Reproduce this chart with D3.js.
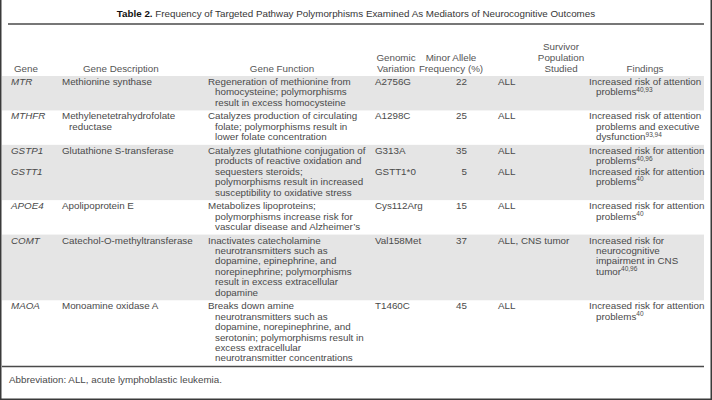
<!DOCTYPE html>
<html>
<head>
<meta charset="utf-8">
<script src="https://cdn.jsdelivr.net/npm/d3@7"></script>
<style>
  html, body { margin: 0; padding: 0; background: #fff; }
  svg { display: block; }
  text { font-family: "Liberation Sans", Arial, sans-serif; }
</style>
</head>
<body>
<svg id="chart" width="712" height="400"></svg>
<script>
// ---------- data ----------
const titleBold = "Table 2.";
const titleText = "Frequency of Targeted Pathway Polymorphisms Examined As Mediators of Neurocognitive Outcomes";
const headers = [
  ["Gene"],
  ["Gene Description"],
  ["Gene Function"],
  ["Genomic", "Variation"],
  ["Minor Allele", "Frequency (%)"],
  ["Survivor", "Population", "Studied"],
  ["Findings"]
];
const genes = ["MTR", "MTHFR", "GSTP1", "GSTT1", "APOE4", "COMT", "MAOA"];
const descriptions = [
  ["Methionine synthase"],
  ["Methylenetetrahydrofolate", "reductase"],
  ["Glutathione S-transferase"],
  [],
  ["Apolipoprotein E"],
  ["Catechol-O-methyltransferase"],
  ["Monoamine oxidase A"]
];
const functions = [
  ["Regeneration of methionine from", "homocysteine; polymorphisms", "result in excess homocysteine"],
  ["Catalyzes production of circulating", "folate; polymorphisms result in", "lower folate concentration"],
  ["Catalyzes glutathione conjugation of", "products of reactive oxidation and", "sequesters steroids;", "polymorphisms result in increased", "susceptibility to oxidative stress"],
  [],
  ["Metabolizes lipoproteins;", "polymorphisms increase risk for", "vascular disease and Alzheimer\u2019s"],
  ["Inactivates catecholamine", "neurotransmitters such as", "dopamine, epinephrine, and", "norepinephrine; polymorphisms", "result in excess extracellular", "dopamine"],
  ["Breaks down amine", "neurotransmitters such as", "dopamine, norepinephrine, and", "serotonin; polymorphisms result in", "excess extracellular", "neurotransmitter concentrations"]
];
const variations = ["A2756G", "A1298C", "G313A", "GSTT1*0", "Cys112Arg", "Val158Met", "T1460C"];
const frequencies = [22, 25, 35, 5, 15, 37, 45];
const populations = ["ALL", "ALL", "ALL", "ALL", "ALL", "ALL, CNS tumor", "ALL"];
const findings = [
  ["Increased risk of attention", "problems"],
  ["Increased risk of attention", "problems and executive", "dysfunction"],
  ["Increased risk for attention", "problems"],
  ["Increased risk for attention", "problems"],
  ["Increased risk for attention", "problems"],
  ["Increased risk for", "neurocognitive", "impairment in CNS", "tumor"],
  ["Increased risk for attention", "problems"]
];
const references = ["40,93", "93,94", "40,96", "40", "40", "40,96", "40"];
// GSTP1 and GSTT1 share one shaded row; GSTT1 starts on that row's 3rd line
const rowGroup = [0, 1, 2, 2, 3, 4, 5];
const lineStart = [0, 0, 0, 2, 0, 0, 0];
const footnote = "Abbreviation: ALL, acute lymphoblastic leukemia.";

// ---------- layout ----------
const W = 712, H = 400;
const svg = d3.select("#chart");
const textColor = "#4a4a4a";
const fs = 9.8;

// group line counts
const groupLines = d3.range(6).map(g =>
  d3.max(genes.map((_, i) => i), i => rowGroup[i] === g
    ? lineStart[i] + Math.max(descriptions[i].length, functions[i].length, findings[i].length, 1) : 0));
const padUnits = 0.3;
const groupUnits = groupLines.map(n => n + padUnits);
const groupStart = [0];
groupUnits.forEach((u, i) => groupStart.push(groupStart[i] + u));
const totalUnits = groupStart[groupStart.length - 1];

const bodyTop = 76, bodyBottom = 366;
const y = d3.scaleLinear().domain([0, totalUnits]).range([bodyTop, bodyBottom]);
const unit = y(1) - y(0);
const baseline = (g, line) => y(groupStart[g] + line) + unit * 0.82 + 0.5;

const colX = d3.scaleOrdinal()
  .domain(["gene", "desc", "func", "var", "freq", "pop", "find"])
  .range([11, 62, 208, 375, 467, 498, 589]);
const headX = d3.scaleOrdinal()
  .domain(d3.range(7))
  .range([14, 83, 282, 396, 451, 561, 645]);
const headAnchor = ["start", "start", "middle", "middle", "middle", "middle", "middle"];
const indent = 7;

// frame
svg.append("rect").attr("x", 0).attr("y", 0).attr("width", W).attr("height", H).attr("fill", "#fff");
svg.append("path")
  .attr("d", `M0.75,0 V${H - 0.75} H${W - 0.75} V0`)
  .attr("fill", "none").attr("stroke", "#3a3a3a").attr("stroke-width", 1.5);

// title
const title = svg.append("text").attr("x", 356).attr("y", 17)
  .attr("text-anchor", "middle").attr("font-size", 9.8).attr("fill", "#363636");
title.append("tspan").attr("font-weight", "bold").attr("fill", "#111").text(titleBold);
title.append("tspan").text(" " + titleText);
svg.append("line").attr("x1", 8).attr("x2", 704).attr("y1", 24).attr("y2", 24)
  .attr("stroke", "#4a4a4a").attr("stroke-width", 1.3);

// header
const hdr = svg.append("g").attr("font-size", fs).attr("fill", "#555");
headers.forEach((lines, c) => {
  const n = lines.length;
  lines.forEach((t, k) => {
    hdr.append("text")
      .attr("x", headX(c))
      .attr("y", 71.5 - (n - 1 - k) * 11)
      .attr("text-anchor", headAnchor[c])
      .text(t);
  });
});

// shaded row bands
svg.append("g").selectAll("rect")
  .data(d3.range(6).filter(g => g % 2 === 0))
  .join("rect")
  .attr("x", 2).attr("width", 702)
  .attr("y", g => y(groupStart[g]))
  .attr("height", g => y(groupStart[g + 1]) - y(groupStart[g]))
  .attr("fill", "#e5e5e5");

// body
const body = svg.append("g").attr("font-size", fs).attr("fill", textColor);
function multiline(lines, x, g, start) {
  lines.forEach((t, k) => {
    body.append("text")
      .attr("x", x + (k > 0 ? indent : 0))
      .attr("y", baseline(g, start + k))
      .text(t);
  });
}
genes.forEach((gene, i) => {
  const g = rowGroup[i], s = lineStart[i];
  body.append("text").attr("x", colX("gene")).attr("y", baseline(g, s))
    .attr("font-style", "italic").text(gene);
  multiline(descriptions[i], colX("desc"), g, s);
  multiline(functions[i], colX("func"), g, s);
  body.append("text").attr("x", colX("var")).attr("y", baseline(g, s)).text(variations[i]);
  body.append("text").attr("x", colX("freq")).attr("y", baseline(g, s))
    .attr("text-anchor", "end").text(frequencies[i]);
  body.append("text").attr("x", colX("pop")).attr("y", baseline(g, s)).text(populations[i]);
  findings[i].forEach((t, k) => {
    const tx = body.append("text")
      .attr("x", colX("find") + (k > 0 ? indent : 0))
      .attr("y", baseline(g, s + k))
      .text(t);
    if (k === findings[i].length - 1) {
      tx.append("tspan").attr("font-size", 6.5).attr("dy", -3.8).text(references[i]);
    }
  });
});

// bottom rule + footnote
svg.append("line").attr("x1", 2).attr("x2", 704).attr("y1", bodyBottom + 0.5).attr("y2", bodyBottom + 0.5)
  .attr("stroke", "#4a4a4a").attr("stroke-width", 1.5);
svg.append("text").attr("x", 9).attr("y", 383).attr("font-size", fs).attr("fill", textColor).text(footnote);
</script>
</body>
</html>
